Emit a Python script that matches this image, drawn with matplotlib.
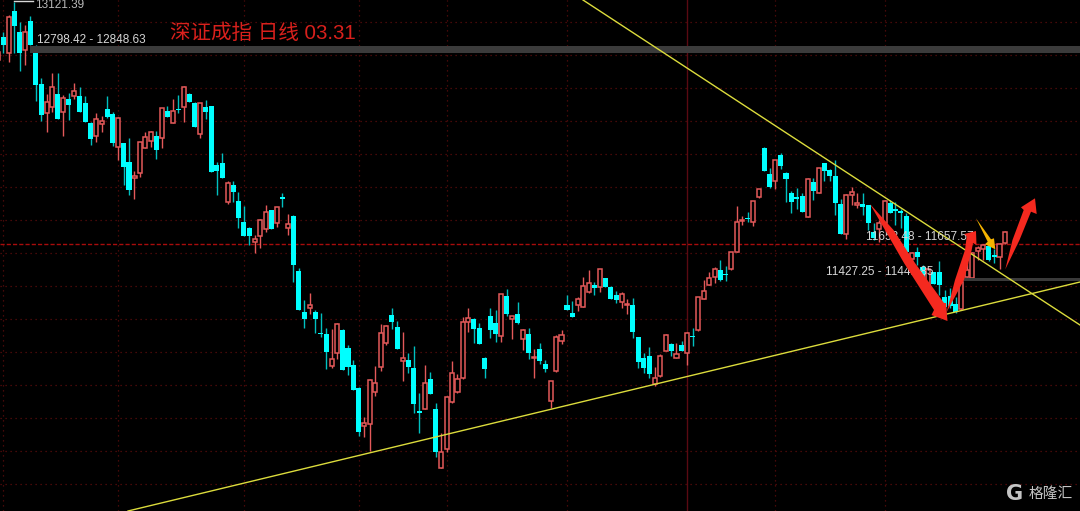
import matplotlib
matplotlib.use('Agg')
import matplotlib.pyplot as plt
from matplotlib.patches import Polygon
import numpy as np

plt.rcParams['font.family'] = ['Liberation Sans', 'Noto Sans CJK SC', 'DejaVu Sans']

opens = [12757,12893,12801,13051,12927,12817,12993,12797,12611,12437,
         12473,12553,12447,12523,12541,12541,12499,12381,12301,12375,
         12463,12433,12237,12257,12143,12047,12081,12231,12271,12301,
         12287,12451,12381,12465,12473,12551,12497,12313,12475,12481,
         12127,12139,11907,12009,11911,11787,11751,11667,11701,11741,
         11857,11777,11935,11749,11821,11491,11245,11271,11245,11121,
         11111,10923,11001,11139,11027,10927,10791,10559,10571,10767,
         10913,11061,11227,11157,10949,10957,10909,10651,10665,10845,
         10661,10307,10425,10707,10765,10847,11183,11203,11149,10969,
         11221,11181,11101,11339,11201,11233,11083,11115,10971,11021,
         10933,10713,10889,11073,11285,11239,11289,11277,11367,11405,
         11397,11449,11397,11345,11307,11289,11285,11093,10967,10981,
         10813,10859,11013,11055,10971,11049,11001,11103,11135,11325,
         11407,11453,11497,11471,11505,11607,11791,11811,11787,11935,
         12229,12075,12031,12187,12079,11957,11933,11941,11815,12027,
         11959,12139,12097,12063,11893,11713,11945,11889,11891,11887,
         11727,11741,11777,11897,11863,11851,11823,11565,11605,11513,
         11407,11487,11487,11337,11341,11293,11263,11457,11451,11611,
         11621,11641,11585,11577,11657]
highs = [12807,12927,13027,13107,12987,12967,13021,12847,12647,12553,
         12681,12677,12547,12557,12617,12593,12541,12387,12441,12421,
         12541,12447,12413,12261,12287,12091,12267,12327,12333,12333,
         12467,12481,12521,12547,12601,12561,12507,12501,12517,12481,
         12147,12197,12031,12031,11963,11881,11757,11707,11801,11887,
         11857,11877,11957,11833,11827,11507,11317,11357,11257,11237,
         11147,11141,11177,11141,11047,10957,10797,10613,10841,10921,
         11173,11167,11271,11193,11123,10997,11041,10757,10927,10887,
         10697,10517,10741,10951,10873,11217,11267,11211,11177,10973,
         11267,11257,11353,11381,11221,11303,11141,11147,11021,11057,
         10957,10833,11107,11137,11347,11311,11333,11457,11497,11423,
         11503,11451,11399,11371,11367,11321,11327,11093,10997,11035,
         10917,10991,11111,11057,11061,11069,11127,11147,11335,11437,
         11487,11517,11557,11521,11603,11881,11821,11847,11911,11985,
         12233,12107,12157,12201,12087,11971,11987,11957,12047,12051,
         12111,12141,12101,12157,11923,11951,11997,11957,11957,11887,
         11781,11797,11917,11917,11907,11861,11837,11607,11637,11527,
         11507,11487,11551,11377,11389,11337,11427,11547,11607,11641,
         11653,11647,11621,11657,11731]
lows = [12701,12801,12747,12797,12693,12727,12847,12511,12393,12323,
        12447,12401,12301,12397,12521,12447,12387,12247,12267,12327,
        12407,12243,12157,12007,11947,11923,12053,12227,12237,12163,
        12227,12413,12381,12441,12387,12503,12353,12291,12401,12087,
        11947,12051,11891,11907,11747,11701,11647,11601,11627,11727,
        11741,11757,11877,11707,11427,11257,11151,11233,11121,11097,
        10903,10911,10963,10897,10867,10777,10503,10493,10411,10741,
        10893,11047,11141,11023,10833,10881,10641,10517,10663,10753,
        10377,10307,10407,10697,10761,10845,11127,11057,11051,10851,
        11087,11067,11067,11221,11081,11175,11017,10963,10847,10933,
        10887,10667,10887,11053,11257,11215,11253,11273,11361,11347,
        11363,11393,11321,11301,11269,11235,11087,10911,10877,10849,
        10803,10857,11011,10981,10969,11011,10927,11041,11133,11321,
        11405,11417,11433,11429,11497,11607,11767,11787,11761,11931,
        12089,11989,11983,12103,11903,11841,11861,11847,11813,11917,
        11957,12033,12033,11829,11711,11683,11887,11869,11827,11737,
        11677,11667,11777,11837,11767,11747,11603,11513,11527,11437,
        11397,11411,11347,11245,11269,11239,11257,11453,11447,11557,
        11557,11553,11537,11505,11653]
closes = [12807,12847,13013,12961,12801,12927,12847,12607,12427,12503,
          12597,12401,12527,12487,12569,12447,12387,12283,12401,12393,
          12417,12257,12409,12113,11977,12063,12263,12297,12327,12217,
          12467,12413,12453,12459,12593,12507,12353,12497,12447,12087,
          12093,12051,12017,11965,11811,11703,11701,11681,11797,11843,
          11741,11873,11921,11775,11525,11257,11205,11285,11205,11113,
          11005,10961,11173,10899,10917,10777,10523,10579,10837,10819,
          11121,11161,11187,11023,10967,10917,10695,10641,10821,10755,
          10407,10403,10737,10877,10843,11185,11207,11141,11053,10905,
          11135,11113,11351,11235,11219,11177,11137,11001,10975,10951,
          10905,10831,11093,11109,11259,11217,11321,11399,11421,11391,
          11501,11395,11323,11319,11355,11295,11125,10947,10911,10875,
          10849,10979,11109,11013,10995,11013,11121,11095,11333,11369,
          11449,11501,11437,11465,11603,11785,11797,11805,11909,11981,
          12089,11993,12155,12123,12045,11905,11925,11847,12045,11971,
          12109,12089,12061,11901,11711,11949,11967,11897,11875,11781,
          11687,11781,11911,11841,11849,11837,11603,11597,11577,11447,
          11503,11411,11407,11277,11281,11245,11427,11497,11601,11631,
          11645,11557,11575,11653,11727]

grid_prices = [12985,12787,12589,12391,12193,11995,11797,11599,11401,
               11203,11005,10807,10609,10411,10213]
grid_days = [1,22,45,66,82,104,142,162]
marked_day = 126
last_close_line = 11653
title_text = '深证成指 日线 03.31'
range_top = '12798.42 - 12848.63'
range_mid = '11653.48 - 11657.57'
range_low = '11427.25 - 11441.85'
peak_label = '13121.39'

RED = '#e4595a'
CYAN = '#00ffff'

fig = plt.figure(figsize=(10.8, 5.11), dpi=100, facecolor='black')
ax = fig.add_axes([0, 0, 1, 1], facecolor='black')
ax.set_xlim(0.438, 197.7)
ax.set_ylim(10051, 13117)
ax.axis('off')

for p in grid_prices:
    ax.axhline(p, color='#5c0d0d', lw=0.9, ls=(0, (1, 3)), zorder=1)
for d in grid_days:
    ax.axvline(d, color='#5c0d0d', lw=0.9, ls=(0, (1, 3)), zorder=1)
ax.axvline(marked_day, color='#5a0a12', lw=1, zorder=1)
ax.axhline(last_close_line, color='#a80c0c', lw=1, ls=(0, (3, 1.5)), zorder=1)

days = np.arange(len(opens))
o = np.array(opens)
c = np.array(closes)
up = c > o
ax.vlines(days[up], np.array(lows)[up], np.array(highs)[up], color=RED, lw=1, zorder=2)
ax.vlines(days[~up], np.array(lows)[~up], np.array(highs)[~up], color='#00c0c0', lw=1, zorder=2)
ax.bar(days[up], (c - o)[up], bottom=o[up], width=0.74, facecolor='black',
       edgecolor=RED, lw=1.1, zorder=3)
ax.bar(days[~up], (o - c)[~up], bottom=c[~up], width=0.92, color=CYAN, lw=0, zorder=3)

# overlay in picture pixels for the hand drawn stuff
ov = fig.add_axes([0, 0, 1, 1], facecolor='none')
ov.set_xlim(0, 1080)
ov.set_ylim(511, 0)
ov.axis('off')

ov.fill_between([30, 1080], 46, 53, color='#3b3b3b', lw=0, zorder=4)
ov.fill_between([960, 1080], 278.5, 281, color='#3a3a3a', lw=0, zorder=4)
ov.plot([128, 1080], [511, 282], color='#dcdc3c', lw=1, zorder=5)
ov.plot([583, 1080], [0, 325], color='#dcdc3c', lw=1, zorder=5)
ov.plot([14, 33], [1, 1], color='#d8d8d8', lw=1, zorder=5)

arrow_down = [(870, 204), (893.5, 230), (915, 263), (944, 303), (946, 303), (947.5, 321),
              (931.5, 315), (934, 310), (904, 263), (885, 230)]
arrow_up = [(946.7, 312), (955, 280), (965, 250), (966.7, 236.5), (964.3, 234), (976, 231),
            (976.5, 245), (973, 243), (971.7, 250), (964, 280)]
arrow_right = [(1005.3, 269.3), (1012.5, 240), (1023.7, 210), (1021, 207.3), (1035, 198.3),
               (1036.7, 214), (1031, 211.7), (1019.5, 240)]
arrow_yellow = [(976, 218.3), (991, 239.3), (994, 238.3), (995.3, 249.3), (985, 244.3), (987.7, 241.7)]
for pts in (arrow_down, arrow_up, arrow_right):
    ov.add_patch(Polygon(pts, closed=True, facecolor='#f5291f', edgecolor='none', zorder=6))
ov.add_patch(Polygon(arrow_yellow, closed=True, facecolor='#f5b400', edgecolor='none', zorder=6))

ov.text(170, 33, title_text, color='#d8201c', fontsize=14.8, va='center', ha='left', zorder=7)
ov.text(37, 40, range_top, color='#d6d6d6', fontsize=8.5, va='center', ha='left', zorder=7)
ov.text(35, 4.5, peak_label, color='#b8b8b8', fontsize=8.5, va='center', ha='left', zorder=7)
ov.text(866, 237, range_mid, color='#d6d6d6', fontsize=8.5, va='center', ha='left', zorder=5.5)
ov.text(826, 272, range_low, color='#d6d6d6', fontsize=8.5, va='center', ha='left', zorder=5.5)

ov.text(1015, 494, 'G', color='#c4c4c4', fontsize=15, fontweight='bold', family='DejaVu Sans',
        va='center', ha='center', zorder=7)
ov.text(1029, 494, '格隆汇', color='#c4c4c4', fontsize=10.6, family='Noto Sans CJK SC',
        va='center', ha='left', zorder=7)

fig.savefig('out.png', dpi=100, facecolor='black')
